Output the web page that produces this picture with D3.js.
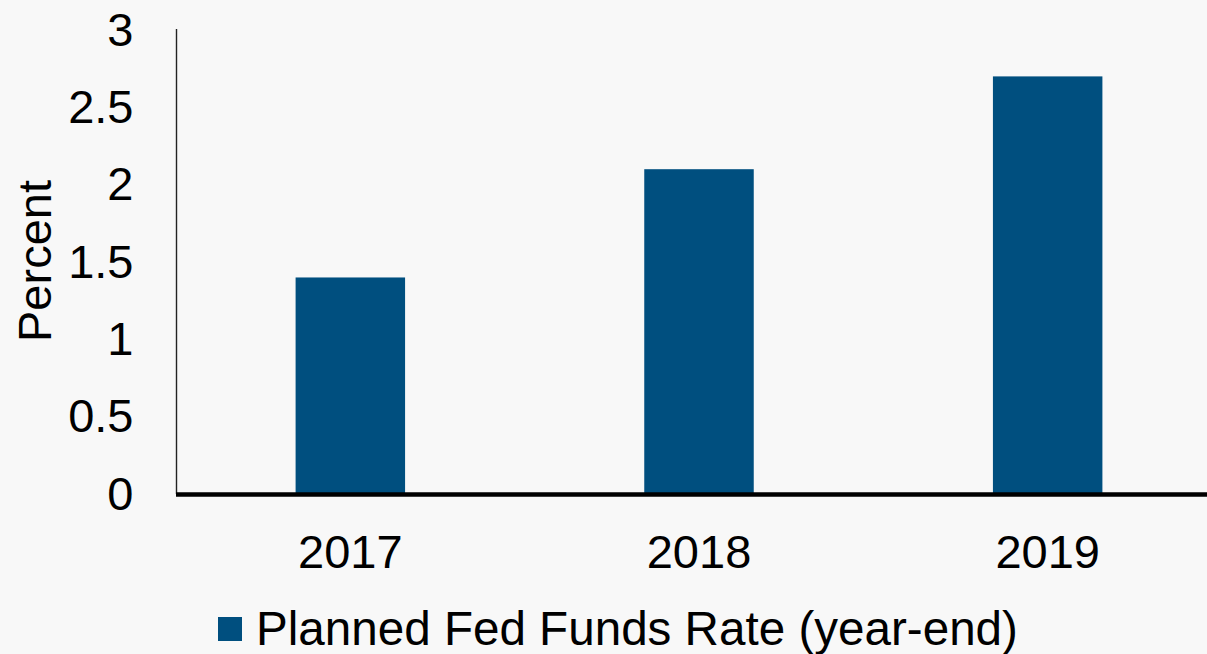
<!DOCTYPE html>
<html>
<head>
<meta charset="utf-8">
<script src="https://cdn.jsdelivr.net/npm/d3@7"></script>
<style>
  html, body { margin: 0; padding: 0; background: #f8f8f8; overflow: hidden; }
  svg { display: block; font-family: "Liberation Sans", Arial, sans-serif; }
</style>
</head>
<body>
<div id="chart"></div>
<script>
// Planned Fed Funds Rate, year-end
const years = ['2017', '2018', '2019'];
const rates = [1.4, 2.1, 2.7];
const yTicks = [0, 0.5, 1, 1.5, 2, 2.5, 3];
const seriesLabel = 'Planned Fed Funds Rate (year-end)';

const W = 1207, H = 654;
const barColor = '#004f7f';

const svg = d3.select('#chart').append('svg')
    .attr('width', W)
    .attr('height', H);

svg.append('rect').attr('width', W).attr('height', H).attr('fill', '#f8f8f8');

const x = d3.scaleBand()
    .domain(years)
    .range([176, 1222])
    .paddingInner(0.686)
    .paddingOuter(0.343);

const y = d3.scaleLinear()
    .domain([0, 3])
    .range([494, 30]);

// Bars
svg.selectAll('.bar')
    .data(years)
    .enter()
    .append('rect')
    .attr('class', 'bar')
    .attr('x', d => x(d))
    .attr('width', x.bandwidth())
    .attr('y', (d, i) => y(rates[i]))
    .attr('height', (d, i) => y(0) - y(rates[i]))
    .attr('fill', barColor);

// Y axis
const yAxis = svg.append('g')
    .attr('transform', 'translate(176.5,0)')
    .call(d3.axisLeft(y).tickValues(yTicks).tickSize(0).tickPadding(43).tickFormat(d => d3.format('')(d)));
yAxis.select('.domain').attr('stroke', '#222').attr('stroke-width', 1.4)
    .attr('d', `M0,${y(3) - 1}V${y(0)}`);
yAxis.selectAll('text')
    .style('font-size', '47px')
    .attr('fill', '#000');

// X axis
const xAxis = svg.append('g')
    .attr('transform', `translate(0,${y(0) + 0.5})`)
    .call(d3.axisBottom(x).tickSize(0).tickPadding(40));
xAxis.select('.domain').attr('stroke', '#000').attr('stroke-width', 4.5)
    .attr('d', `M176,0H${W}`);
xAxis.selectAll('text')
    .style('font-size', '47px')
    .attr('fill', '#000');

// Y label
svg.append('text')
    .attr('transform', 'translate(51,261) rotate(-90)')
    .attr('text-anchor', 'middle')
    .style('font-size', '47px')
    .attr('fill', '#000')
    .text('Percent');

// Legend
const legend = svg.append('g').attr('transform', 'translate(218,617)');
legend.append('rect')
    .attr('width', 24).attr('height', 24)
    .attr('fill', barColor);
legend.append('text')
    .attr('x', 38)
    .attr('y', 28)
    .style('font-size', '47.6px')
    .attr('fill', '#000')
    .text(seriesLabel);
</script>
</body>
</html>
